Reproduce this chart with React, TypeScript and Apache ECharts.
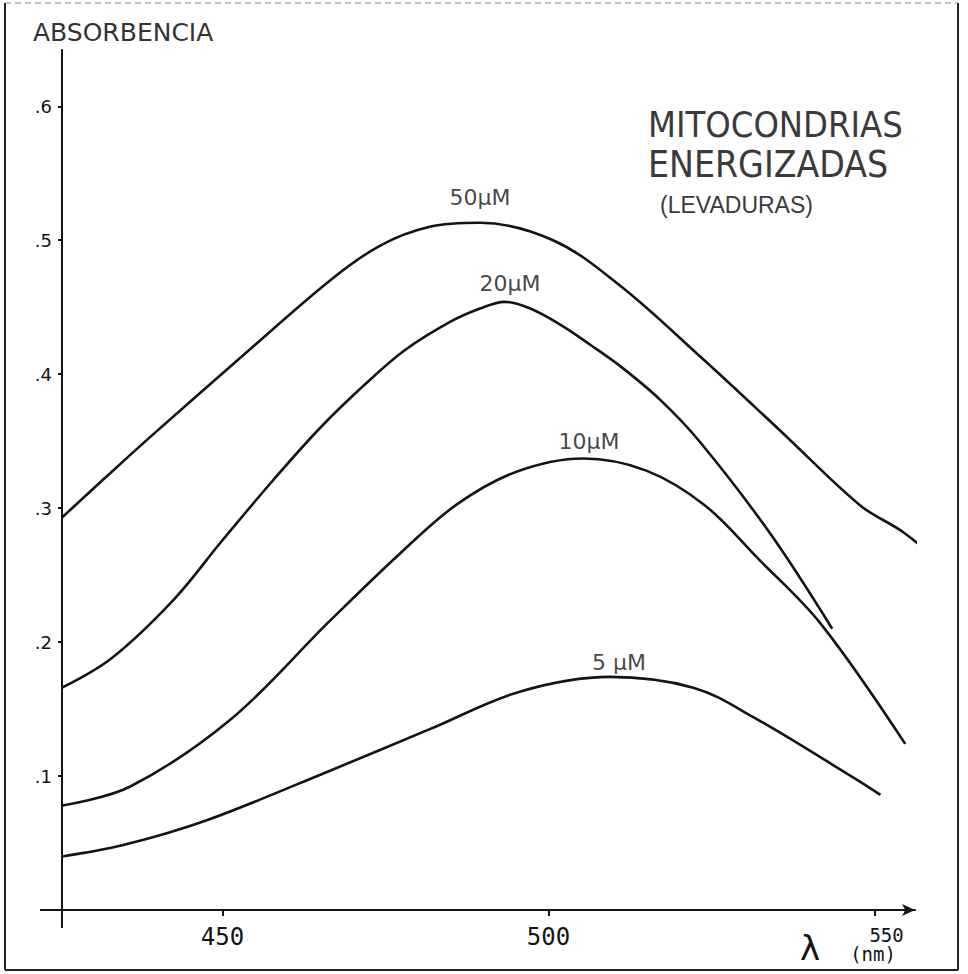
import React, { useEffect, useRef } from "react";
import * as echarts from "echarts";

// Axis range and ticks
const X_MIN = 425.4;
const X_MAX = 556.2;
const Y_MIN = 0;
const Y_MAX = 0.642;
const WAVELENGTH_TICKS = [450, 500, 550];
const ABS_TICKS = [0.1, 0.2, 0.3, 0.4, 0.5, 0.6];

// 50 µM
const wl50 = [425.4, 432.1, 438.9, 452.7, 466.5, 474.2, 481.8, 489.5, 500.7, 511.0, 523.3, 535.5, 547.8, 554.4, 562.7];
const abs50 = [0.293, 0.323, 0.353, 0.412, 0.47, 0.496, 0.51, 0.513, 0.5, 0.466, 0.413, 0.358, 0.302, 0.282, 0.249];
// 20 µM
const wl20 = [425.4, 433.0, 442.4, 450.0, 457.8, 465.0, 472.0, 478.0, 484.9, 489.5, 493.3, 497.2, 501.8, 506.4, 511.0, 517.1, 523.3, 534.0, 543.5];
const abs20 = [0.166, 0.188, 0.231, 0.276, 0.321, 0.36, 0.393, 0.418, 0.439, 0.449, 0.454, 0.449, 0.437, 0.422, 0.406, 0.381, 0.349, 0.281, 0.21];
// 10 µM
const wl10 = [425.5, 435.8, 451.2, 466.5, 477.2, 486.0, 495.0, 505.3, 515.0, 524.0, 532.0, 541.7, 554.7];
const abs10 = [0.078, 0.092, 0.142, 0.216, 0.266, 0.303, 0.327, 0.337, 0.328, 0.302, 0.263, 0.214, 0.124];
// 5 µM
const wl5 = [425.4, 434.8, 447.6, 466.5, 481.8, 495.6, 509.4, 522.2, 531.4, 546.7, 550.9];
const abs5 = [0.04, 0.0485, 0.067, 0.104, 0.135, 0.163, 0.174, 0.166, 0.144, 0.099, 0.086];

// Curve labels (data coordinates of label centres)
const curveLabelText = ["50µM", "20µM", "10µM", "5 µM"];
const curveLabelX = [489.5, 494.1, 506.2, 510.8];
const curveLabelY = [0.532, 0.468, 0.35, 0.185];

const TITLE_LINES = ["MITOCONDRIAS", "ENERGIZADAS", "(LEVADURAS)"];
const Y_NAME = "ABSORBENCIA";
const X_NAME_SYMBOL = "λ";
const X_NAME_UNIT = "(nm)";

const zip = (xs: number[], ys: number[]) => xs.map((x, i) => [x, ys[i]]);

const INK = "#141414";
const MONO = '"DejaVu Sans Mono", "Liberation Mono", monospace';
const SANS = '"DejaVu Sans", sans-serif';
const NARROW = '"Liberation Sans Narrow", "DejaVu Sans Condensed", "Liberation Sans", sans-serif';

export default function App() {
  const ref = useRef<HTMLDivElement>(null);

  useEffect(() => {
    if (!ref.current) return;
    const chart = echarts.init(ref.current, null, { renderer: "svg" });

    const lineSeries = (data: number[][], clip = true) => ({
      type: "line",
      data,
      smooth: 0.35,
      symbol: "none",
      clip,
      lineStyle: { color: INK, width: 2.6 },
      z: 3,
    });

    chart.setOption({
      animation: false,
      backgroundColor: "#ffffff",
      grid: { left: 62, right: 53, top: 50, bottom: 64, containLabel: false },
      xAxis: {
        type: "value",
        min: X_MIN,
        max: X_MAX,
        axisLine: {
          show: true,
          lineStyle: { color: INK, width: 2 },
          symbol: ["none", "arrow"],
          symbolSize: [9, 13],
        },
        axisTick: {
          show: true,
          customValues: WAVELENGTH_TICKS,
          length: 6,
          lineStyle: { color: INK, width: 2 },
        },
        axisLabel: {
          customValues: WAVELENGTH_TICKS,
          margin: 15,
          color: INK,
          formatter: (v: number) => (v === 550 ? "{s|" + v + "}" : "{n|" + v + "}"),
          rich: {
            n: { fontFamily: MONO, fontSize: 24, color: INK },
            s: { fontFamily: MONO, fontSize: 19, color: INK, padding: [0, 0, 0, 24] },
          },
        },
        splitLine: { show: false },
      },
      yAxis: {
        type: "value",
        min: Y_MIN,
        max: Y_MAX,
        axisLine: { show: true, lineStyle: { color: INK, width: 2 } },
        axisTick: {
          show: true,
          customValues: ABS_TICKS,
          length: 4,
          lineStyle: { color: INK, width: 2 },
        },
        axisLabel: {
          customValues: ABS_TICKS,
          margin: 10,
          color: INK,
          fontFamily: SANS,
          fontSize: 18,
          formatter: (v: number) => "." + Math.round(v * 10),
        },
        splitLine: { show: false },
      },
      series: [
        lineSeries(zip(wl50, abs50), false),
        lineSeries(zip(wl20, abs20)),
        lineSeries(zip(wl10, abs10)),
        lineSeries(zip(wl5, abs5)),
        {
          type: "scatter",
          symbolSize: 0,
          silent: true,
          data: curveLabelText.map((t, i) => [curveLabelX[i], curveLabelY[i], t]),
          label: {
            show: true,
            position: "inside",
            formatter: (p: any) => p.value[2],
            fontFamily: SANS,
            fontSize: 22,
            color: INK,
          },
          z: 4,
        },
      ],
    });

    // decorative layout: axis overshoots, frame, titles
    const o = chart.convertToPixel({ gridIndex: 0 }, [X_MIN, 0]) as number[];
    const ox = o[0];
    const oy = o[1];
    chart.setOption({
      graphic: [
        { type: "line", shape: { x1: ox, y1: oy, x2: ox, y2: oy + 18 }, style: { stroke: INK, lineWidth: 2 } },
        { type: "line", shape: { x1: ox - 22, y1: oy, x2: ox, y2: oy }, style: { stroke: INK, lineWidth: 2 } },
        { type: "line", shape: { x1: 5, y1: 3, x2: 5, y2: 970 }, style: { stroke: "#222", lineWidth: 2 } },
        { type: "line", shape: { x1: 958, y1: 3, x2: 958, y2: 970 }, style: { stroke: "#222", lineWidth: 2 } },
        { type: "line", shape: { x1: 5, y1: 970, x2: 958, y2: 970 }, style: { stroke: "#222", lineWidth: 2 } },
        { type: "line", shape: { x1: 5, y1: 3, x2: 958, y2: 3 }, style: { stroke: "#888", lineWidth: 1, lineDash: [6, 4] } },
        {
          type: "text",
          x: 33,
          y: 32,
          style: { text: Y_NAME, font: '25px "DejaVu Sans", sans-serif', fill: "#333", textVerticalAlign: "middle" },
        },
        {
          type: "text",
          x: 648,
          y: 124,
          style: { text: TITLE_LINES[0], font: "36px " + NARROW, fill: "#3a3a3a", textVerticalAlign: "middle" },
        },
        {
          type: "text",
          x: 648,
          y: 164,
          style: { text: TITLE_LINES[1], font: "37px " + NARROW, fill: "#3a3a3a", textVerticalAlign: "middle" },
        },
        {
          type: "text",
          x: 660,
          y: 205,
          style: { text: TITLE_LINES[2], font: '23px "Liberation Sans", sans-serif', fill: "#3a3a3a", textVerticalAlign: "middle" },
        },
        {
          type: "text",
          x: 810,
          y: 948,
          style: { text: X_NAME_SYMBOL, font: '34px "DejaVu Sans", sans-serif', fill: INK, textAlign: "center", textVerticalAlign: "middle" },
        },
        {
          type: "text",
          x: 873,
          y: 954,
          style: { text: X_NAME_UNIT, font: '19px ' + MONO, fill: INK, textAlign: "center", textVerticalAlign: "middle" },
        },
      ],
    });

    return () => chart.dispose();
  }, []);

  return (
    <div
      ref={ref}
      style={{ position: "absolute", left: 0, top: 0, width: 968, height: 974, background: "#fff" }}
    />
  );
}
